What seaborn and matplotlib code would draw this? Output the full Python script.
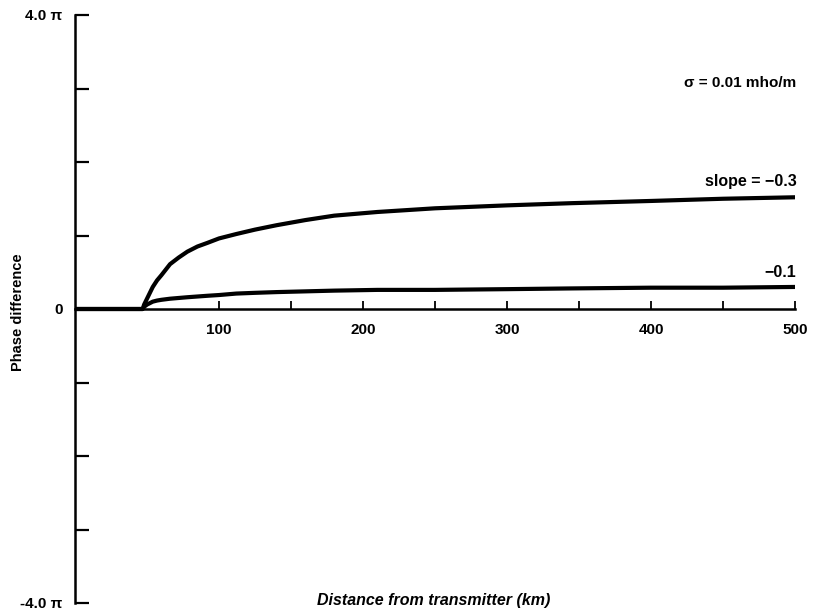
import numpy as np
import pandas as pd
import matplotlib
matplotlib.use("Agg")
import matplotlib.pyplot as plt
from matplotlib.ticker import FixedLocator, NullFormatter
import seaborn as sns

# distance from transmitter (km) and phase difference (in units of pi)
distance = [0, 47, 48, 50, 52, 54, 57, 60, 66, 72, 78, 85, 92, 100, 112, 125, 140, 160,
            180, 210, 250, 300, 345, 400, 450, 500]
phase_slope_03 = [0, 0, 0.06, 0.14, 0.22, 0.30, 0.39, 0.46, 0.61, 0.70, 0.78, 0.85, 0.90,
                  0.96, 1.02, 1.08, 1.14, 1.21, 1.27, 1.32, 1.37, 1.41, 1.44, 1.47, 1.50, 1.52]
phase_slope_01 = [0, 0, 0.03, 0.06, 0.08, 0.10, 0.115, 0.125, 0.14, 0.15, 0.16, 0.17, 0.18,
                  0.19, 0.21, 0.22, 0.23, 0.24, 0.25, 0.26, 0.26, 0.27, 0.28, 0.29, 0.29, 0.30]

x_major = [100, 200, 300, 400, 500]
x_minor = [150, 250, 350, 450]
y_major = [-4, 0, 4]
y_major_labels = ["-4.0 \u03c0", "0", "4.0 \u03c0"]
y_minor = [-3, -2, -1, 1, 2, 3]

df = pd.DataFrame({
    "distance": distance * 2,
    "phase": phase_slope_03 + phase_slope_01,
    "slope": ["-0.3"] * len(distance) + ["-0.1"] * len(distance),
})

sns.set_style("white")
plt.rcParams["font.family"] = ["Liberation Sans", "DejaVu Sans"]
plt.rcParams["font.weight"] = "bold"
plt.rcParams["text.color"] = "black"
plt.rcParams["xtick.color"] = "black"
plt.rcParams["ytick.color"] = "black"
plt.rcParams["axes.edgecolor"] = "black"

fig = plt.figure(figsize=(8.13, 6.14), dpi=100)
ax = fig.add_axes([75 / 813, 1 - 603 / 614, (795 - 75) / 813, (603 - 15) / 614])

sns.lineplot(data=df, x="distance", y="phase", hue="slope", palette=["black", "black"],
             linewidth=3, legend=False, ax=ax)
for line in ax.lines:
    line.set_solid_joinstyle("round")
    line.set_solid_capstyle("round")

ax.set_xlim(0, 500)
ax.set_ylim(-4, 4)

for s in ["top", "right"]:
    ax.spines[s].set_visible(False)
ax.spines["bottom"].set_position(("data", 0))
ax.spines["bottom"].set_linewidth(1.8)
ax.spines["left"].set_linewidth(1.8)

ax.xaxis.set_major_locator(FixedLocator(x_major))
ax.xaxis.set_minor_locator(FixedLocator(x_minor))
ax.xaxis.set_minor_formatter(NullFormatter())
ax.tick_params(axis="x", which="both", bottom=True, direction="in", length=6, width=1.3,
               labelsize=11, pad=10)

ax.yaxis.set_major_locator(FixedLocator(y_major))
ax.set_yticklabels(y_major_labels)
ax.yaxis.set_minor_locator(FixedLocator(y_minor))
ax.tick_params(axis="y", which="both", left=True, direction="in", length=10, width=1.6,
               labelsize=11, pad=9)

ax.set_xlabel("")
ax.set_ylabel("")
fig.text(18 / 813, 1 - 312 / 614, "Phase difference", rotation=90, ha="center", va="center",
         fontsize=10.5, fontweight="bold")
fig.text(434 / 813, 1 - 601 / 614, "Distance from transmitter (km)", ha="center", va="center",
         fontsize=11.5, fontweight="bold", style="italic")

ax.text(501, 3.07, "\u03c3 = 0.01 mho/m", ha="right", va="center", fontsize=11, fontweight="bold")
ax.text(501, 1.74, "slope = \u22120.3", ha="right", va="center", fontsize=11.5, fontweight="bold")
ax.text(501, 0.50, "\u22120.1", ha="right", va="center", fontsize=11.5, fontweight="bold")

fig.savefig("out.png", dpi=100)
